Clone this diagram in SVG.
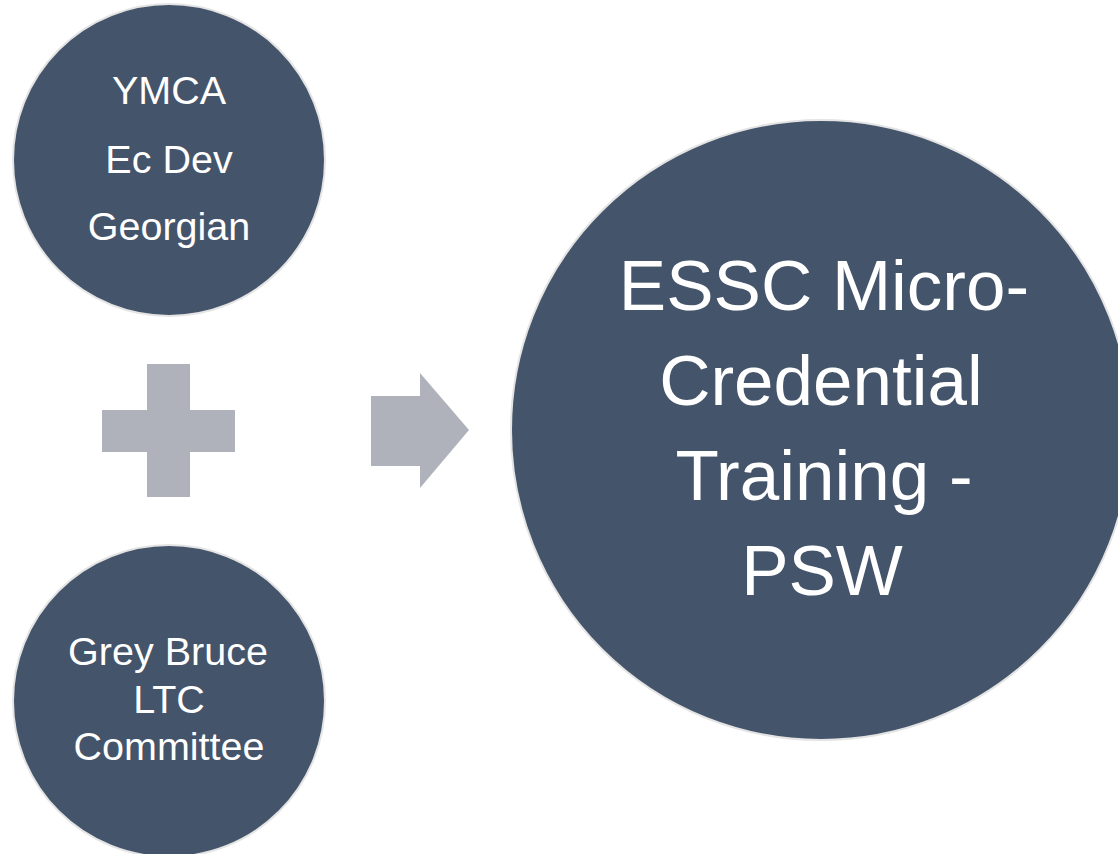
<svg xmlns="http://www.w3.org/2000/svg" width="1118" height="854" viewBox="0 0 1118 854">
  <style>
    .node { fill: #44546a; stroke: #e4e4e4; stroke-width: 2; }
    .sym { fill: #afb2ba; }
    .lbl { fill: #ffffff; font-family: "Liberation Sans", Arial, sans-serif; text-anchor: middle; }
    .sm { font-size: 39.5px; }
    .lg { font-size: 71px; }
  </style>
  <rect width="1118" height="854" fill="#ffffff"/>

  <!-- input partner: top -->
  <g id="partners-top">
    <circle class="node" cx="169" cy="160" r="156"/>
    <text class="lbl sm" x="169" y="104">YMCA</text>
    <text class="lbl sm" x="169" y="173">Ec Dev</text>
    <text class="lbl sm" x="169" y="240">Georgian</text>
  </g>

  <!-- input partner: bottom -->
  <g id="partners-bottom">
    <circle class="node" cx="169" cy="701" r="156"/>
    <text class="lbl sm" x="168" y="665">Grey Bruce</text>
    <text class="lbl sm" x="169" y="713">LTC</text>
    <text class="lbl sm" x="169" y="760">Committee</text>
  </g>

  <!-- result -->
  <g id="result">
    <circle class="node" cx="821" cy="430" r="310"/>
    <text class="lbl lg" x="824" y="310">ESSC Micro-</text>
    <text class="lbl lg" x="821" y="405">Credential</text>
    <text class="lbl lg" x="824" y="500">Training -</text>
    <text class="lbl lg" x="822" y="595">PSW</text>
  </g>

  <!-- operators: plus and arrow -->
  <g id="connectors">
    <path class="sym" d="M147 364 H190 V410 H235 V452 H190 V497 H147 V452 H102 V410 H147 Z"/>
    <path class="sym" d="M371 396 H420 V373 L469 430 L420 488 V466 H371 Z"/>
  </g>
</svg>
